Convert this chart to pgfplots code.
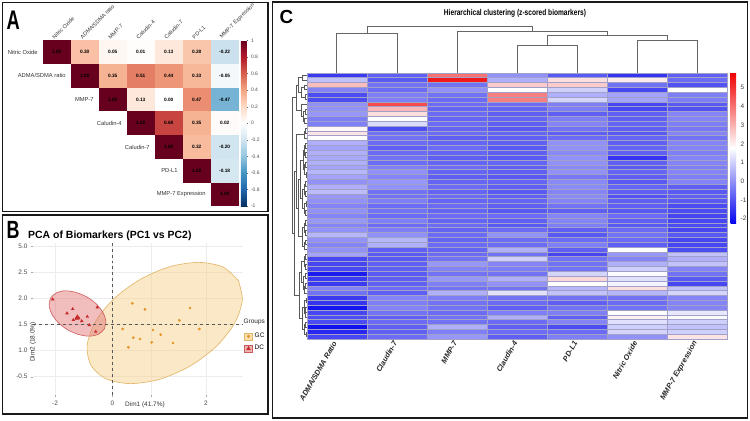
\documentclass[border=0pt]{standalone}
\usepackage{fontspec}
\setmainfont{Liberation Sans}
\usepackage{pgfplots}
\usepackage{pgfplotstable}
\pgfplotsset{compat=1.18}

\pgfdeclareplotmark{ccell}{\pgfpathrectangle{\pgfpoint{-14bp}{-11.85bp}}{\pgfpoint{28bp}{23.7bp}}\pgfusepathqfill}
\pgfdeclareplotmark{hcell}{\pgfpathrectangle{\pgfpoint{-30.05bp}{-2.421bp}}{\pgfpoint{60.1bp}{4.842bp}}\pgfusepathqfillstroke}

\definecolor{gcpt}{RGB}{228,150,40}
\definecolor{gcfill}{RGB}{245,205,130}
\definecolor{gcline}{RGB}{226,180,100}
\definecolor{dcpt}{RGB}{200,45,45}
\definecolor{dcfill}{RGB}{225,110,110}
\definecolor{dcline}{RGB}{205,90,90}
\definecolor{cellborder}{RGB}{160,160,200}

\pgfplotstableread{
c r v t
1 1 1.00 1.00
2 1 0.30 0.30
3 1 0.05 0.05
4 1 0.01 0.01
5 1 0.13 0.13
6 1 0.28 0.28
7 1 -0.22 -0.22
2 2 1.00 1.00
3 2 0.35 0.35
4 2 0.51 0.51
5 2 0.44 0.44
6 2 0.33 0.33
7 2 -0.05 -0.05
3 3 1.00 1.00
4 3 0.13 0.13
5 3 0.00 0.00
6 3 0.47 0.47
7 3 -0.47 -0.47
4 4 1.00 1.00
5 4 0.68 0.68
6 4 0.35 0.35
7 4 0.02 0.02
5 5 1.00 1.00
6 5 0.32 0.32
7 5 -0.20 -0.20
6 6 1.00 1.00
7 6 -0.18 -0.18
7 7 1.00 1.00
}\corrtab

\pgfplotstableread{
x y lab
0.5 1 {Nitric Oxide}
1.5 2 {ADMA/SDMA ratio}
2.5 3 {MMP-7}
3.5 4 {Caludin-4}
4.5 5 {Caludin-7}
5.5 6 {PD-L1}
6.5 7 {MMP-7 Expression}
}\rowlabs

\pgfplotstableread{
x y lab
1 0.5 {Nitric Oxide}
2 0.5 {ADMA/SDMA ratio}
3 0.5 {MMP-7}
4 0.5 {Caludin-4}
5 0.5 {Caludin-7}
6 0.5 {PD-L1}
7 0.5 {MMP-7 Expression}
}\collabs

\pgfplotstableread{
r a b c d e f g
1 -1.4 -0.8 4.0 0.0 -0.9 -1.5 -0.8
2 0.8 -0.9 5.4 0.5 2.3 2.1 -0.6
3 2.8 -0.5 -0.5 2.6 2.6 -0.5 -1.0
4 -0.2 -0.6 0.0 1.8 1.0 -1.2 1.8
5 -1.1 -0.3 -0.5 3.8 0.5 0.3 -0.3
6 -1.1 -0.3 -0.6 3.8 1.1 0.3 -0.3
7 0.0 4.6 -0.6 -0.6 -0.3 -1.2 -0.9
8 0.0 2.9 -0.7 -0.7 -0.3 -1.2 -1.0
9 0.1 2.3 -0.6 -0.8 -0.8 -0.8 -0.2
10 -0.3 1.8 -0.7 -0.7 -0.3 -0.8 -0.2
11 -0.3 1.2 -0.6 -0.8 -0.2 -0.7 -0.3
12 1.9 -1.1 -0.7 -0.9 -0.5 -0.8 -0.4
13 2.2 -0.5 -0.6 -0.7 -0.8 -0.9 -0.2
14 1.8 -0.5 -0.8 -0.8 -0.6 -0.7 -0.5
15 0.5 -0.6 -0.7 -0.8 0.0 -0.8 -0.2
16 0.3 -0.8 -0.6 -0.9 0.0 -0.7 -0.2
17 0.5 -0.6 -0.7 -0.8 -0.1 -0.8 -0.3
18 0.4 -0.5 -0.8 -0.9 0.0 -1.5 -0.2
19 0.5 -0.6 -0.7 -0.7 0.0 -0.8 -0.2
20 0.3 -0.3 -0.6 -0.8 -0.1 -0.9 -0.3
21 0.6 0.0 -0.7 -0.8 0.0 -0.7 -0.2
22 0.3 -0.2 -0.8 -0.9 -0.4 -0.8 -0.3
23 0.0 0.1 -0.7 -0.7 -0.1 -0.9 -0.2
24 0.5 0.0 -0.6 -0.8 -0.1 -0.7 -0.8
25 0.7 -0.5 -0.7 -0.9 -0.2 -0.8 -0.9
26 0.1 -0.5 -0.6 -0.8 -0.1 -1.0 -0.8
27 0.0 -0.3 -0.7 -0.7 -0.2 -0.8 -0.9
28 -0.2 -0.6 -0.6 -0.8 -0.5 -0.8 -1.1
29 0.0 -0.5 -0.7 -0.9 -0.8 -0.9 -1.1
30 -0.2 -0.6 -0.6 -0.6 -0.2 -0.6 -1.2
31 0.1 -0.3 -0.7 -0.8 -0.2 -0.8 -1.2
32 -0.2 -0.6 -0.6 -0.9 -0.3 -0.9 -1.1
33 0.0 -0.3 -0.7 -0.6 -0.8 -0.6 -1.2
34 0.6 0.0 -0.6 0.0 -0.9 -0.5 -0.9
35 0.0 0.6 -0.7 -0.6 -0.6 -0.6 -1.2
36 -0.2 0.5 -0.6 -0.6 -0.3 -0.8 -1.2
37 0.0 -0.8 -0.7 0.5 -0.8 1.8 -1.1
38 0.3 -0.9 -0.6 -0.5 -1.2 0.1 0.8
39 -1.2 -0.9 -0.5 1.0 -0.5 -0.2 0.5
40 -1.2 -0.8 0.1 -0.2 -0.5 0.5 0.8
41 -1.2 -0.8 -0.2 -0.3 -0.5 1.0 -0.2
42 -1.9 -0.9 -0.5 -0.5 1.1 1.7 -0.5
43 -1.4 -0.8 0.1 0.5 2.4 1.3 -0.9
44 -1.4 -0.8 -0.3 0.0 1.8 1.6 -1.2
45 -0.2 -0.6 -0.5 -0.5 0.6 2.3 0.8
46 -0.5 -0.8 0.5 1.3 0.8 0.6 1.1
47 -1.4 -0.2 -0.3 -0.5 -0.5 -0.5 -0.2
48 -1.5 -0.3 -0.5 -0.6 -0.8 -0.6 -0.2
49 -2.0 -0.2 -0.5 -0.8 -0.5 -0.5 -0.2
50 -1.2 -0.5 -0.6 -0.3 -0.3 1.8 1.4
51 -1.1 -0.8 -0.5 0.5 -0.8 2.0 1.7
52 -1.1 -0.6 -0.5 -0.6 -0.2 1.3 1.0
53 -2.05 -0.8 0.5 -0.8 -1.1 1.0 0.8
54 -1.7 -0.8 -0.3 -0.6 -0.6 1.1 1.0
55 -1.2 -0.6 0.1 -0.8 -0.3 0.0 2.2
}\heat

\begin{document}
\begin{tikzpicture}[x=1bp,y=1bp]
\useasboundingbox (0,0) rectangle (750,420);
\fill[white] (0,0) rectangle (750,420);

% ---------------- Panel A ----------------
\begin{axis}[
  at={(42.7bp,213.8bp)}, anchor=south west, scale only axis,
  width=196bp, height=165.9bp,
  xmin=0.5, xmax=7.5, ymin=0.5, ymax=7.5, y dir=reverse,
  axis line style={draw=none}, xtick=\empty, ytick=\empty, clip=false,
  colormap={rdbu}{rgb255=(5,48,97) rgb255=(33,102,172) rgb255=(67,147,195) rgb255=(146,197,222) rgb255=(209,229,240) rgb255=(255,255,255) rgb255=(253,219,199) rgb255=(244,165,130) rgb255=(214,96,77) rgb255=(178,24,43) rgb255=(103,0,31)},
  point meta min=-1, point meta max=1,
  colorbar right,
  colorbar shift/.style={xshift=2.3bp},
  colorbar style={at={(parent axis.north east)}, anchor=north west, scale only axis,
    width=6bp, height=165.9bp,
    ytick={-1,-0.8,-0.6,-0.4,-0.2,0,0.2,0.4,0.6,0.8,1},
    yticklabels={-1,-0.8,-0.6,-0.4,-0.2,0,0.2,0.4,0.6,0.8,1},
    yticklabel style={font=\fontsize{5}{6}\selectfont, text=black!70, xshift=-1bp},
    axis line style={draw=none}, major tick length=1.5bp, tick align=outside,
    ytick pos=right, tick style={black!60, line width=0.3pt}},
]
\addplot[scatter, only marks, mark=ccell,
  scatter/use mapped color={draw=mapped color, fill=mapped color},
  point meta=explicit] table[x=c, y=r, meta=v]{\corrtab};
\addplot[draw=none, nodes near coords, point meta=explicit symbolic,
  every node near coord/.append style={anchor=center, text=black,
  font=\fontsize{4.8}{5}\selectfont\bfseries}] table[x=c, y=r, meta=t]{\corrtab};
\addplot[draw=none, nodes near coords, point meta=explicit symbolic,
  every node near coord/.append style={anchor=east, text=black!80, xshift=-1.5bp,
  font=\fontsize{5.8}{6}\selectfont}] table[x=x, y=y, meta=lab]{\rowlabs};
\addplot[draw=none, nodes near coords, point meta=explicit symbolic,
  every node near coord/.append style={xshift=-2bp, rotate=45, anchor=south west, text=black!80, inner sep=0.5bp,
  font=\fontsize{5.5}{6}\selectfont}] table[x=x, y=y, meta=lab]{\collabs};
\end{axis}

% ---------------- Panel B ----------------
\begin{axis}[
  at={(33bp,25bp)}, anchor=south west, scale only axis,
  width=210bp, height=152bp,
  xmin=-2.765, xmax=4.539, ymin=-0.704, ymax=5.142,
  axis line style={draw=none},
  tick style={gray!70, line width=0.4pt}, major tick length=2bp, tick align=outside,
  xtick pos=bottom, ytick pos=left,
  xtick={-2,0,3.25}, xticklabels={-2,0,2},
  extra x ticks={1.36}, extra x tick labels={},
  ytick={0,1,2,3,4,5}, yticklabels={-0.5,1.0,1.5,2.0,2.5,5.0},
  grid=major, grid style={gray!15, line width=0.5pt},
  ticklabel style={font=\fontsize{6.5}{7}\selectfont, text=black!70},
  xlabel={Dim1 (41.7\%)}, ylabel={Dim2 (18.0\%)},
  xlabel style={at={(rel axis cs:0.533,0)}, anchor=north, yshift=-3.5bp, font=\fontsize{6.5}{7}\selectfont, text=black!80},
  ylabel style={at={(rel axis cs:0,0.48)}, anchor=center, xshift=-20bp, font=\fontsize{6.5}{7}\selectfont, text=black!80},
  legend style={at={(1.005,0.42)}, anchor=north west, draw=none, fill=none,
    font=\fontsize{6.5}{7}\selectfont, row sep=2bp, inner sep=0pt},
  legend cell align=left,
]
\addplot[forget plot, fill=gcfill, fill opacity=0.45, draw=gcline, line width=0.6pt, smooth] coordinates {
(4.376,3.700)(4.515,2.938)(4.240,2.042)(3.600,1.154)(2.685,0.400)(1.638,-0.100)(0.623,-0.265)(-0.216,-0.085)
(-0.744,0.431)(-0.883,1.192)(-0.609,2.088)(0.031,2.977)(0.946,3.731)(1.993,4.231)(3.009,4.396)(3.847,4.215)(4.376,3.700)} -- cycle;
\addplot[forget plot, fill=dcfill, fill opacity=0.45, draw=dcline, line width=0.6pt, smooth] coordinates {
(-0.285,1.835)(-0.480,1.638)(-0.793,1.558)(-1.165,1.619)(-1.548,1.796)(-1.882,2.073)(-2.108,2.404)(-2.205,2.738)
(-2.150,3.027)(-1.955,3.223)(-1.642,3.304)(-1.270,3.242)(-0.887,3.065)(-0.553,2.788)(-0.327,2.458)(-0.230,2.123)(-0.285,1.835)} -- cycle;
\addplot[forget plot, dashed, black!65, line width=0.5pt] coordinates {(0,-0.704)(0,5.142)};
\addplot[forget plot, dashed, black!65, line width=0.5pt] coordinates {(-2.765,2)(4.539,2)};
\addplot[forget plot, only marks, mark=*, mark size=1.2bp, gcpt] coordinates {
(0.689,2.823)(1.130,2.592)(2.696,2.642)(2.323,2.169)(3.019,1.835)(0.355,1.835)(1.409,1.796)
(1.677,1.615)(0.723,1.500)(0.957,1.450)(1.363,1.323)(2.104,1.296)(0.550,1.131)};
\addplot[forget plot, only marks, mark=triangle*, mark size=1.6bp, dcpt] coordinates {
(-2.080,2.977)(-1.583,2.438)(-1.384,2.604)(-1.224,2.285)(-1.176,2.258)(-1.245,2.231)
(-1.071,2.142)(-1.363,2.181)(-0.877,2.308)(-0.807,1.988)(-0.529,2.669)(-0.584,1.731)};
\addplot[forget plot, only marks, mark=triangle*, mark size=3bp, dcpt] coordinates {(-1.224,2.269)};
\addlegendimage{legend image code/.code={\draw[draw=gcline, fill=gcfill, fill opacity=0.6, line width=0.5pt] (0bp,-3.5bp) rectangle (8bp,3.5bp); \fill[gcpt] (4bp,0bp) circle (1.4bp);}}
\addlegendentry{GC}
\addlegendimage{legend image code/.code={\draw[draw=dcline, fill=dcfill, fill opacity=0.5, line width=0.5pt] (0bp,-3.5bp) rectangle (8bp,3.5bp); \fill[dcpt] (2bp,-1.6bp) -- (6bp,-1.6bp) -- (4bp,2bp) -- cycle;}}
\addlegendentry{DC}
\end{axis}

% ---------------- Panel C ----------------
\begin{axis}[
  at={(306.7bp,81bp)}, anchor=south west, scale only axis,
  width=420.7bp, height=266.3bp,
  xmin=0.5, xmax=7.5, ymin=0.5, ymax=55.5, y dir=reverse,
  axis line style={draw=none}, major tick length=0pt,
  xtick={1,2,3,4,5,6,7},
  xticklabels={ADMA/SDMA Ratio, Claudin-7, MMP-7, Claudin-4, PD-L1, Nitric Oxide, MMP-7 Expression},
  xticklabel style={rotate=60, anchor=east, font=\fontsize{7.5}{8}\selectfont\bfseries\itshape, text=black!85},
  ytick=\empty,
  colormap={bwr}{rgb255=(5,5,238) rgb255=(255,255,255) rgb255=(240,0,0)},
  point meta min=-2.25, point meta max=5.8,
  colorbar right,
  colorbar shift/.style={xshift=3.3bp},
  colorbar style={at={(parent axis.north east)}, anchor=north west, scale only axis,
    width=5.5bp, height=150.6bp,
    ytick={-2,-1,0,1,2,3,4,5}, yticklabels={-2,-1,0,1,2,3,4,5},
    yticklabel style={font=\fontsize{6.5}{7}\selectfont, text=black!75, xshift=1bp},
    axis line style={draw=none}, major tick length=0pt},
]
\addplot[scatter, only marks, mark=hcell, scatter/use mapped color={draw=cellborder, fill=mapped color}, mark options={line width=0.4pt}, point meta=explicit] table[x expr=1, y=r, meta=a]{\heat};
\addplot[scatter, only marks, mark=hcell, scatter/use mapped color={draw=cellborder, fill=mapped color}, mark options={line width=0.4pt}, point meta=explicit] table[x expr=2, y=r, meta=b]{\heat};
\addplot[scatter, only marks, mark=hcell, scatter/use mapped color={draw=cellborder, fill=mapped color}, mark options={line width=0.4pt}, point meta=explicit] table[x expr=3, y=r, meta=c]{\heat};
\addplot[scatter, only marks, mark=hcell, scatter/use mapped color={draw=cellborder, fill=mapped color}, mark options={line width=0.4pt}, point meta=explicit] table[x expr=4, y=r, meta=d]{\heat};
\addplot[scatter, only marks, mark=hcell, scatter/use mapped color={draw=cellborder, fill=mapped color}, mark options={line width=0.4pt}, point meta=explicit] table[x expr=5, y=r, meta=e]{\heat};
\addplot[scatter, only marks, mark=hcell, scatter/use mapped color={draw=cellborder, fill=mapped color}, mark options={line width=0.4pt}, point meta=explicit] table[x expr=6, y=r, meta=f]{\heat};
\addplot[scatter, only marks, mark=hcell, scatter/use mapped color={draw=cellborder, fill=mapped color}, mark options={line width=0.4pt}, point meta=explicit] table[x expr=7, y=r, meta=g]{\heat};
\end{axis}

% row dendrogram
\begin{axis}[
  at={(291.7bp,81bp)}, anchor=south west, scale only axis,
  width=15bp, height=266.3bp,
  xmin=0, xmax=15, x dir=reverse, ymin=0.5, ymax=55.5, y dir=reverse,
  hide axis, clip=false,
]
\addplot[line width=0.45pt, black!65, unbounded coords=jump] coordinates {
(0,1)(4,1)(4,2)(0,2)(nan,nan)
(0,3)(2,3)(2,4)(0,4)(nan,nan)
(0,5)(1.5,5)(1.5,6)(0,6)(nan,nan)
(2,3.5)(5,3.5)(5,5.5)(1.5,5.5)(nan,nan)
(4,1.5)(8,1.5)(8,4.5)(5,4.5)(nan,nan)
(0,8)(1.5,8)(1.5,9)(0,9)(nan,nan)
(0,10)(2,10)(2,11)(0,11)(nan,nan)
(1.5,8.5)(3.5,8.5)(3.5,10.5)(2,10.5)(nan,nan)
(0,7)(5,7)(5,9.5)(3.5,9.5)(nan,nan)
(8,3)(10,3)(10,8.25)(5,8.25)(nan,nan)
(0,12)(1,12)(1,13)(0,13)(nan,nan)
(1,12.5)(2.5,12.5)(2.5,14)(0,14)(nan,nan)
(0,15)(1,15)(1,16)(0,16)(nan,nan)
(0,17)(1,17)(1,18)(0,18)(nan,nan)
(0,19)(1.2,19)(1.2,20)(0,20)(nan,nan)
(0,21)(0.8,21)(0.8,22)(0,22)(nan,nan)
(1,15.5)(2,15.5)(2,17.5)(1,17.5)(nan,nan)
(1.2,19.5)(2.2,19.5)(2.2,21.5)(0.8,21.5)(nan,nan)
(2,16.5)(3.5,16.5)(3.5,20.5)(2.2,20.5)(nan,nan)
(0,23)(1,23)(1,24)(0,24)(nan,nan)
(0,25)(1.3,25)(1.3,26)(0,26)(nan,nan)
(0,27)(0.9,27)(0.9,28)(0,28)(nan,nan)
(0,29)(1.1,29)(1.1,30)(0,30)(nan,nan)
(1,23.5)(2.4,23.5)(2.4,25.5)(1.3,25.5)(nan,nan)
(0.9,27.5)(2,27.5)(2,29.5)(1.1,29.5)(nan,nan)
(2.4,24.5)(4,24.5)(4,28.5)(2,28.5)(nan,nan)
(0,31)(1,31)(1,32)(0,32)(nan,nan)
(0,33)(1.2,33)(1.2,34)(0,34)(nan,nan)
(0,35)(1.5,35)(1.5,36)(0,36)(nan,nan)
(1.5,35.5)(2.5,35.5)(2.5,37)(0,37)(nan,nan)
(1,31.5)(2.2,31.5)(2.2,33.5)(1.2,33.5)(nan,nan)
(2.2,32.5)(4.5,32.5)(4.5,36.25)(2.5,36.25)(nan,nan)
(3.5,18.5)(6,18.5)(6,26.5)(4,26.5)(nan,nan)
(6,22.5)(8,22.5)(8,34.375)(4.5,34.375)(nan,nan)
(2.5,13.25)(10,13.25)(10,28.4375)(8,28.4375)(nan,nan)
(0,38)(1,38)(1,39)(0,39)(nan,nan)
(0,40)(1.3,40)(1.3,41)(0,41)(nan,nan)
(1,38.5)(2.5,38.5)(2.5,40.5)(1.3,40.5)(nan,nan)
(0,42)(1,42)(1,43)(0,43)(nan,nan)
(0,44)(1.2,44)(1.2,45)(0,45)(nan,nan)
(1.2,44.5)(2,44.5)(2,46)(0,46)(nan,nan)
(1,42.5)(3,42.5)(3,45.25)(2,45.25)(nan,nan)
(0,47)(0.8,47)(0.8,48)(0,48)(nan,nan)
(0,49)(1,49)(1,50)(0,50)(nan,nan)
(1,49.5)(1.8,49.5)(1.8,51)(0,51)(nan,nan)
(0.8,47.5)(2.8,47.5)(2.8,50.25)(1.8,50.25)(nan,nan)
(0,52)(1.1,52)(1.1,53)(0,53)(nan,nan)
(0,54)(0.9,54)(0.9,55)(0,55)(nan,nan)
(1.1,52.5)(2.3,52.5)(2.3,54.5)(0.9,54.5)(nan,nan)
(2.5,39.5)(5,39.5)(5,43.875)(3,43.875)(nan,nan)
(2.8,48.875)(4.5,48.875)(4.5,53.5)(2.3,53.5)(nan,nan)
(5,41.6875)(7.5,41.6875)(7.5,51.1875)(4.5,51.1875)(nan,nan)
(10,20.84)(12,20.84)(12,46.44)(7.5,46.44)(nan,nan)
(10,5.625)(14,5.625)(14,33.64)(12,33.64)};
\end{axis}

% column dendrogram
\begin{axis}[
  at={(306.7bp,347.3bp)}, anchor=south west, scale only axis,
  width=420.7bp, height=52.3bp,
  xmin=0.5, xmax=7.5, ymin=0, ymax=52.3,
  hide axis, clip=false,
]
\addplot[line width=0.6pt, black!60, unbounded coords=jump] coordinates {
(1,0)(1,39)(2,39)(2,0)(nan,nan)
(4,0)(4,27.3)(5,27.3)(5,0)(nan,nan)
(6,0)(6,32.3)(7,32.3)(7,0)(nan,nan)
(4.5,27.3)(4.5,37.3)(6.5,37.3)(6.5,32.3)(nan,nan)
(3,0)(3,41.3)(5.5,41.3)(5.5,37.3)(nan,nan)
(1.5,39)(1.5,46)(4.25,46)(4.25,41.3)};
\end{axis}

% ---------------- texts and frames ----------------
\node[anchor=base west, inner sep=0] at (6.5,390) {\scalebox{0.68}[1]{\fontsize{27}{27}\selectfont\bfseries A}};
\node[anchor=base west, inner sep=0] at (6.5,182) {\scalebox{0.72}[1]{\fontsize{25}{25}\selectfont\bfseries B}};
\node[anchor=base west, inner sep=0] at (279.5,396) {\fontsize{19}{19}\selectfont\bfseries C};
\node[anchor=base west, inner sep=0] at (28,181.5) {\fontsize{10.5}{11}\selectfont\bfseries PCA of Biomarkers (PC1 vs PC2)};
\node[anchor=center, inner sep=0] at (515,406.5) {\scalebox{0.78}[1]{\fontsize{8.5}{9}\selectfont\bfseries Hierarchical clustering (z-scored biomarkers)}};
\node[anchor=west, inner sep=0, font=\fontsize{6.5}{7}\selectfont, text=black!85] at (243.5,98) {Groups};

\draw[line width=1.4pt, black!90] (2.5,208.5) rectangle (268,417.5);
\draw[line width=1.4pt, black!90] (2.5,6) rectangle (268,205);
\draw[line width=1.4pt, black!90] (272.5,2) rectangle (747.5,418);
\end{tikzpicture}
\end{document}
